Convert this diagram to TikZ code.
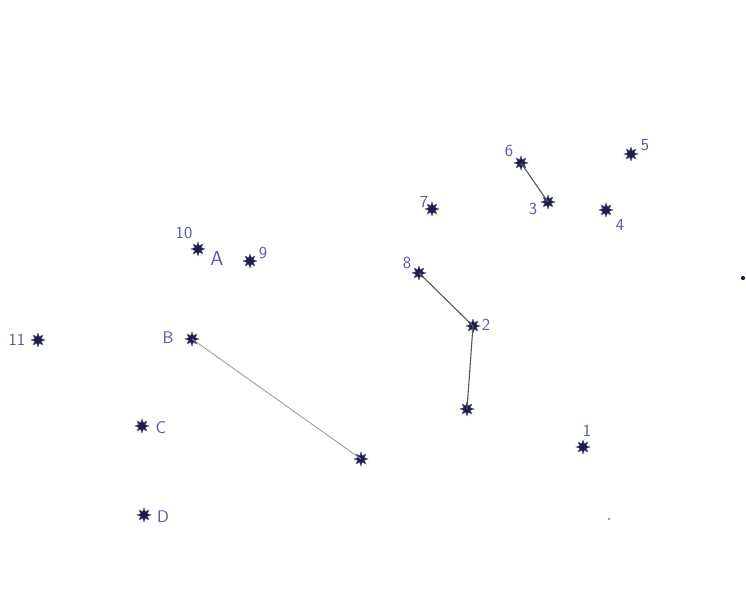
\documentclass[tikz,border=0pt]{standalone}
\usetikzlibrary{shapes.geometric}

\definecolor{starink}{HTML}{1C1C4E}
\definecolor{labelink}{HTML}{5656A0}

\tikzset{
  starmark/.style={shape=star, star points=8, star point ratio=2.0,
    minimum size=10pt, inner sep=0pt, fill=starink, draw=starink!70, line width=0.3pt},
  tag/.style={text=labelink, font=\sffamily\large, inner sep=1pt},
  link/.style={draw=black!65, line width=0.8pt},
  faint/.style={draw=black!40, line width=0.6pt}
}

\begin{document}
\begin{tikzpicture}[x=0.025cm, y=-0.025cm]

  % frame: 746 x 589 pixels
  \useasboundingbox (0,0) rectangle (746,589);

  % stars, upper right group
  \node[starmark] (s6) at (521,163) {};
  \node[tag]      (l6) at (509,151) {6};
  \node[starmark] (s3) at (548,202) {};
  \node[tag]      (l3) at (533,209) {3};
  \node[starmark] (s5) at (631,154) {};
  \node[tag]      (l5) at (645,145) {5};
  \node[starmark] (s4) at (606,210) {};
  \node[tag]      (l4) at (620,225) {4};
  \node[starmark] (s7) at (432,209) {};
  \node[tag]      (l7) at (424,202) {7};

  % stars, middle
  \node[starmark] (s8) at (419,273) {};
  \node[tag]      (l8) at (407,263) {8};
  \node[starmark] (s2) at (473,326) {};
  \node[tag]      (l2) at (486,325) {2};
  \node[starmark] (s0) at (467,409) {};
  \node[starmark] (s1) at (583,447) {};
  \node[tag]      (l1) at (587,431) {1};

  % stars, left group
  \node[starmark] (s10) at (198,249) {};
  \node[tag]      (l10) at (184,233) {10};
  \node[tag]      (lA)  at (217,258) {\Large A};
  \node[starmark] (s9)  at (250,261) {};
  \node[tag]      (l9)  at (263,253) {9};
  \node[starmark] (s11) at (38,340) {};
  \node[tag]      (l11) at (17,340) {11};
  \node[starmark] (sB)  at (192,339) {};
  \node[tag]      (lB)  at (168,338) {B};
  \node[starmark] (sE)  at (361,459) {};
  \node[starmark] (sC)  at (142,426) {};
  \node[tag]      (lC)  at (161,428) {C};
  \node[starmark] (sD)  at (144,515) {};
  \node[tag]      (lD)  at (163,517) {D};

  % specks
  \fill[starink] (743,278) circle (1.5pt) coordinate (p1);
  \fill[black!40] (609,519) circle (1pt) coordinate (p2);

  % joined stars
  \draw[link]  (s6.center) -- (s3.center);
  \draw[link]  (s8.center) -- (s2.center);
  \draw[link]  (s2.center) -- (s0.center);
  \draw[faint] (sB.center) -- (sE.center);

\end{tikzpicture}
\end{document}
